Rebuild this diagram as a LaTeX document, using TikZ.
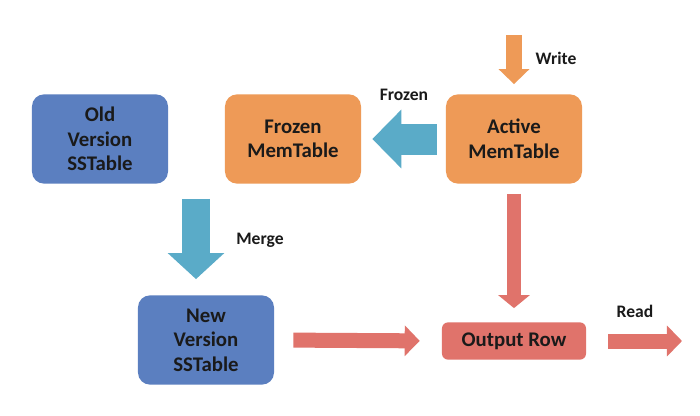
\documentclass[tikz,border=0pt]{standalone}
\usepackage{fontspec}
\setmainfont{Carlito}
\usepackage{tikz}
\usetikzlibrary{arrows.meta,positioning,calc}
\definecolor{BoxBlue}{HTML}{5B7FC0}
\definecolor{BoxOrange}{HTML}{EE9A57}
\definecolor{BoxRed}{HTML}{E0736B}
\definecolor{ArrowTeal}{HTML}{5AABC8}
\definecolor{TextDark}{HTML}{1A1A1A}
\tikzset{
  FB/.style={rectangle,rounded corners=0.3cm,
             minimum width=3.4cm,minimum height=2.23cm,
             text centered,align=center,inner sep=2pt,
             font=\fontsize{14.8}{17.5}\selectfont\bfseries,text=TextDark},
  nB/.style={FB,fill=BoxBlue},
  nO/.style={FB,fill=BoxOrange},
  nR/.style={FB,fill=BoxRed,rounded corners=0.15cm,
             minimum width=3.6cm,minimum height=0.93cm},
  lbl/.style={font=\fontsize{12.5}{15}\selectfont\bfseries,text=TextDark},
  blk/.style={line width=0.375cm,-{Triangle[length=0.375cm,width=0.75cm]}}
}

\begin{document}
\begin{tikzpicture}[x=0.025cm,y=-0.025cm]
  \useasboundingbox[fill=white] (0,0) rectangle (700,416);

  \node[nB] (old) at (100,139) {Old\\Version\\SSTable};
  \node[nO] (frz) at (293,139) {Frozen\\MemTable};
  \node[nO] (act) at (514,139) {Active\\MemTable};
  \node[nB] (new) at (206,340) {New\\Version\\SSTable};
  \node[nR] (out) at (514,341) {Output Row};
  \coordinate (wtop) at (514,35);
  \coordinate (rend) at (682,341);

  \node[lbl] (lw) at (556,58) {Write};
  \node[lbl] (lf) at (404,95) {Frozen};
  \node[lbl] (lm) at (260,240) {Merge};
  \node[lbl] (lr) at (635,311) {Read};

  % write into the active table
  \draw[blk,BoxOrange,shorten >=0.25cm] (wtop) -- (act.north);
  % freeze
  \draw[ArrowTeal,line width=0.775cm,
        -{Triangle[length=0.725cm,width=1.425cm]},
        shorten <=0.225cm,shorten >=0.275cm] (act.west) -- (frz.east);
  % merge
  \draw[ArrowTeal,line width=0.7cm,
        -{Triangle[length=0.65cm,width=1.375cm]},
        shorten <=0.375cm,shorten >=0.4cm]
        ($(new.north |- old.south)+(-10,0)$) -- ($(new.north)+(-10,0)$);
  % read path
  \draw[BoxRed,line width=0.35cm,-{Triangle[length=0.325cm,width=0.775cm]},
        shorten <=0.25cm,shorten >=0.35cm] (act.south) -- (out.north);
  \draw[blk,BoxRed,shorten <=0.475cm,shorten >=0.55cm] (new.east) -- (out.west);
  \draw[blk,BoxRed,shorten <=0.55cm] (out.east) -- (rend);
\end{tikzpicture}
\end{document}
